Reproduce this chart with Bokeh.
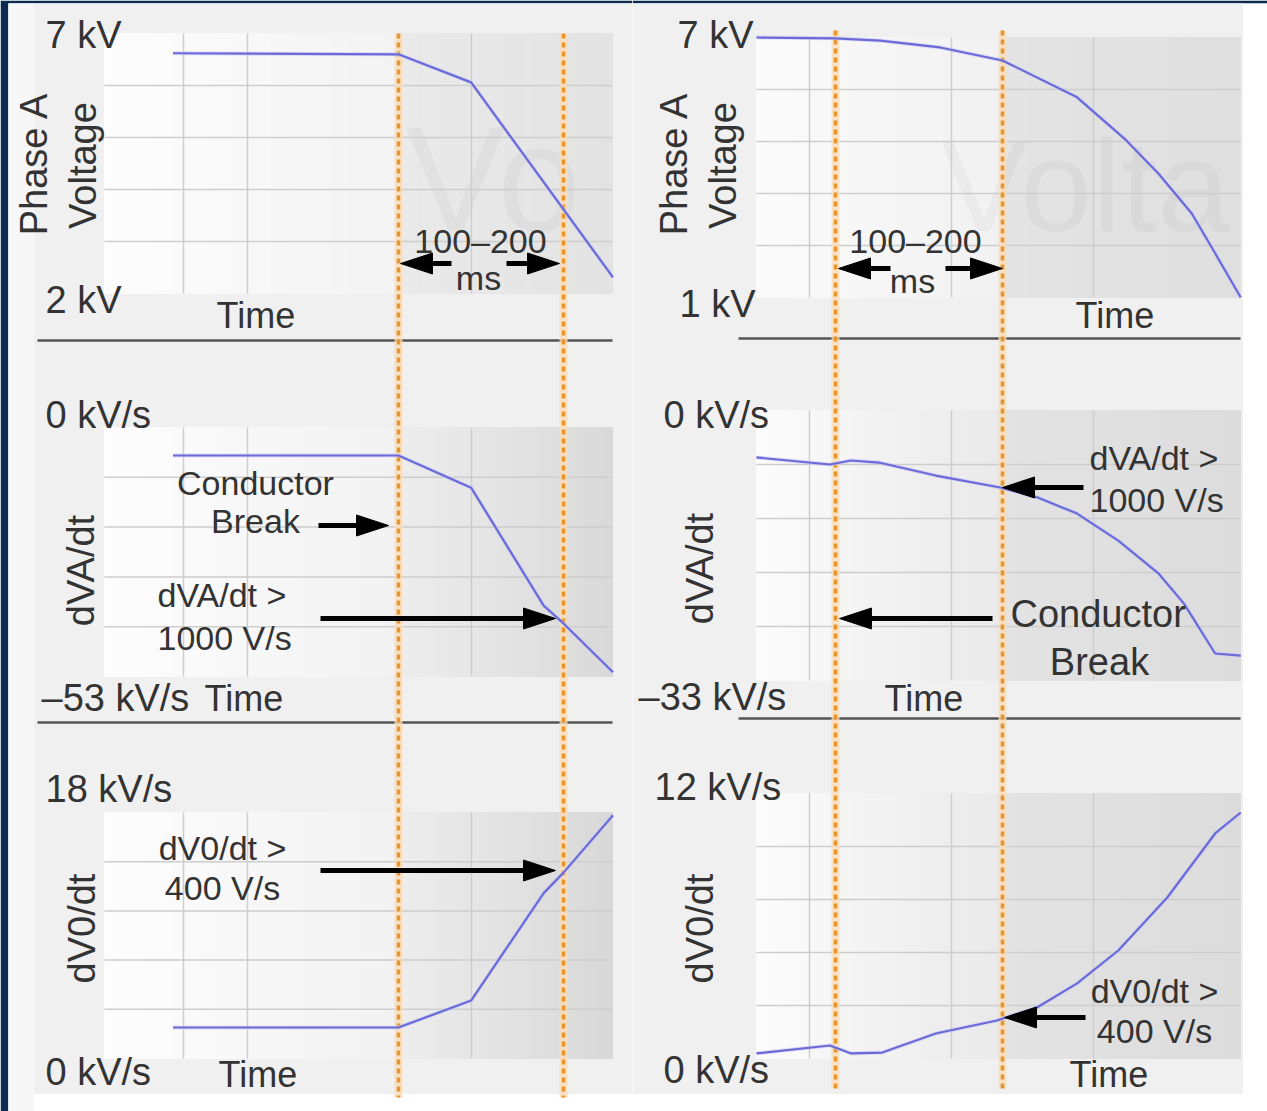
import numpy as np
from bokeh.plotting import figure
from bokeh.layouts import row
from bokeh.models import Range1d
from bokeh.core.properties import value
from bokeh.embed import file_html
from bokeh.resources import INLINE

# ---------------- data (time in ms, relative to the conductor break) ----------------
break_ms = 0        # first dashed line: conductor break
detect_ms = 150     # second dashed line: detection, 100-200 ms later

# Left column: idealised waveforms
left_t_volt = [-205, 0, 66, 195]
left_volt_kv = [6.62, 6.60, 6.06, 2.31]
left_t_rate = [-205, 0, 66, 132, 150, 195]
left_dva_kvs = [-5.96, -5.96, -12.8, -37.9, -41.7, -52.1]
left_dv0_kvs = [2.27, 2.27, 4.24, 12.1, 13.6, 17.8]

# Right column: recorded waveforms
right_t_volt = [-71, 0, 40, 94, 150, 217, 261, 290, 320, 341, 364]
right_volt_kv = [7.0, 6.98, 6.93, 6.77, 6.47, 5.62, 4.63, 3.86, 2.94, 2.02, 1.0]
right_t_dva = [-71, -5, 14, 39, 90, 148, 181, 217, 254, 290, 313, 341, 364]
right_dva_kvs = [-5.74, -6.6, -6.11, -6.36, -7.95, -9.41, -10.6, -12.6, -15.9, -19.9, -23.6, -29.7, -29.95]
right_t_dv0 = [-71, -5, 14, 42, 90, 145, 181, 217, 254, 298, 341, 364]
right_dv0_kvs = [0.23, 0.59, 0.23, 0.27, 1.13, 1.72, 2.31, 3.4, 4.89, 7.29, 10.19, 11.14]

# axis limits (bottom, top) and their labels
left_volt_lim, left_volt_labels = (2, 7), ("2 kV", "7 kV")
left_dva_lim, left_dva_labels = (-53, 0), ("\u201353 kV/s", "0 kV/s")
left_dv0_lim, left_dv0_labels = (0, 18), ("0 kV/s", "18 kV/s")
right_volt_lim, right_volt_labels = (1, 7), ("1 kV", "7 kV")
right_dva_lim, right_dva_labels = (-33, 0), ("\u201333 kV/s", "0 kV/s")
right_dv0_lim, right_dv0_labels = (0, 12), ("0 kV/s", "12 kV/s")

# ---------------- styling ----------------
FONT = value("Liberation Sans")
TXT = "#333333"
BLUE = "#6a6ad8"
ORANGE = "#e8942c"
HALO = "#fadcb6"
GRID = "#cdcdcd"
BASE = "#f0f0f0"
EDGE = "#f7f7f7"
NAVY = "#0b2a50"

# page geometry (pixels)
W_PAGE, H_PAGE = 1267, 1111
LX0, LX1, RX1 = 0, 632, 1267
NAVY_L, NAVY_T = 8, 3
L_BREAK, L_DET = 398, 563
R_BREAK, R_DET = 835, 1002
L_CH = (104, 612)
R_CH = (756, 1240)
L_VGRID = [183, 247, 471]
R_VGRID = [809, 951, 1093]
TICK, TIME, AXL, ANN = 38, 36, 38, 34
WM = 0.03


def mix(c0, c1, f):
    a = [int(c0[i:i + 2], 16) for i in (1, 3, 5)]
    b = [int(c1[i:i + 2], 16) for i in (1, 3, 5)]
    return "#%02x%02x%02x" % tuple(int(round(a[k] + (b[k] - a[k]) * f)) for k in range(3))


class Column:
    """One figure per column; each chart in it gets its own y range."""
    def __init__(self, fx0, fx1, ml, px_break, px_detect):
        self.fx0, self.fx1 = fx0 + ml, fx1
        self.fy0, self.fy1 = NAVY_T, H_PAGE
        self.px_break = px_break
        self.kx = (detect_ms - break_ms) / (px_detect - px_break)
        self.p = figure(width=fx1 - fx0, height=H_PAGE,
                        x_range=Range1d(self.X(fx0 + ml), self.X(fx1)),
                        y_range=Range1d(0, 1),
                        output_backend="svg", toolbar_location=None,
                        x_axis_location=None, y_axis_location=None,
                        min_border=0, min_border_left=ml, min_border_top=NAVY_T,
                        outline_line_color=None,
                        background_fill_color="white", border_fill_color=NAVY)
        self.p.xgrid.visible = False
        self.p.ygrid.visible = False

    def X(self, px):
        return break_ms + (px - self.px_break) * self.kx


class Panel:
    def __init__(self, col, name, lim, py_top, py_bot):
        self.c, self.p, self.name = col, col.p, name
        lo, hi = lim
        self.lim = lim
        self.hi, self.py_top = hi, py_top
        self.ky = (lo - hi) / (py_bot - py_top)
        rngs = dict(self.p.extra_y_ranges)
        rngs[name] = Range1d(self.Y(col.fy1), self.Y(col.fy0))
        self.p.extra_y_ranges = rngs

    def X(self, px):
        return self.c.X(px)

    def Y(self, py):
        return self.hi + (py - self.py_top) * self.ky

    def rect(self, x0, x1, y0, y1, color):
        c = self.c
        x0 = x0 - 3 if x0 <= c.fx0 else x0
        x1 = x1 + 3 if x1 >= c.fx1 else x1
        y0 = y0 - 3 if y0 <= c.fy0 else y0
        y1 = y1 + 3 if y1 >= c.fy1 else y1
        self.p.quad(left=[self.X(x0)], right=[self.X(x1)], top=[self.Y(y0)], bottom=[self.Y(y1)],
                    fill_color=color, line_color=color, line_width=1, y_range_name=self.name)

    def gradient(self, x0, x1, y0, y1, c0, c1, n=30):
        e = np.linspace(x0, x1, n + 1)
        cols = [mix(c0, c1, (i + 0.5) / n) for i in range(n)]
        self.p.quad(left=[self.X(v) for v in e[:-1]], right=[self.X(v) for v in e[1:]],
                    top=self.Y(y0), bottom=self.Y(y1), fill_color=cols, line_color=cols, line_width=1,
                    y_range_name=self.name)

    def text(self, px, py, s, size, align="left", baseline="alphabetic", angle=0.0, color=TXT, alpha=1.0):
        if baseline == "alphabetic":       # place by baseline, render centred on the cap height
            py = py - 0.36 * size
            baseline = "middle"
        self.p.text(x=[self.X(px)], y=[self.Y(py)], text=[s], text_font=FONT,
                    text_font_size=f"{size}px", text_color=color, text_alpha=alpha,
                    text_align=align, text_baseline=baseline, angle=angle, y_range_name=self.name)

    def arrow(self, x_tail, x_tip, y, L=32, W=21, lw=5):
        s = 1 if x_tip > x_tail else -1
        base = x_tip - s * L
        self.p.segment(x0=[self.X(x_tail)], y0=[self.Y(y)], x1=[self.X(base + s * 2)], y1=[self.Y(y)],
                       line_color="black", line_width=lw, y_range_name=self.name)
        self.p.patch(x=[self.X(x_tip), self.X(base), self.X(base)],
                     y=[self.Y(y), self.Y(y - W / 2), self.Y(y + W / 2)],
                     fill_color="black", line_color="black", line_width=1, y_range_name=self.name)

    def grid(self, x0, x1, py0, py1, vpx, n=5):
        ys = list(np.linspace(self.lim[0], self.lim[1], n + 1)[1:-1])
        self.p.segment(x0=[self.X(x0)] * len(ys), x1=[self.X(x1)] * len(ys), y0=ys, y1=ys,
                       line_color=GRID, line_width=1.5, y_range_name=self.name)
        xs = [self.X(v) for v in vpx]
        self.p.segment(x0=xs, x1=xs, y0=[self.Y(py0)] * len(xs), y1=[self.Y(py1)] * len(xs),
                       line_color=GRID, line_width=1.5, y_range_name=self.name)

    def separator(self, py, x0, x1):
        self.p.segment(x0=[self.X(x0)], x1=[self.X(x1)], y0=[self.Y(py)], y1=[self.Y(py)],
                       line_color="#555555", line_width=2.5, y_range_name=self.name)

    def dashed(self, py0, py1):
        xs = [break_ms, detect_ms]
        y0, y1 = self.Y(py0), self.Y(py1)
        self.p.segment(x0=xs, x1=xs, y0=[y0, y0], y1=[y1, y1], line_color=HALO, line_width=8,
                       line_alpha=0.8, y_range_name=self.name)
        self.p.segment(x0=xs, x1=xs, y0=[y0, y0], y1=[y1, y1], line_color=ORANGE, line_width=3.5,
                       line_dash="5 4", y_range_name=self.name)

    def curve(self, t, v):
        self.p.line(t, v, line_color="#c9c9f3", line_width=4, line_alpha=0.6, y_range_name=self.name)
        self.p.line(t, v, line_color=BLUE, line_width=2.2, y_range_name=self.name)


# =============================== left column ===============================
L = Column(LX0, LX1, NAVY_L, L_BREAK, L_DET)
lt = Panel(L, "l_volt", left_volt_lim, 33, 293)
lm = Panel(L, "l_dva", left_dva_lim, 427, 676)
lb = Panel(L, "l_dv0", left_dv0_lim, 812, 1058)

# page background
lt.rect(33, LX1, NAVY_T, 1093, BASE)
lt.rect(8, 33, NAVY_T, H_PAGE, EDGE)
# chart areas
lt.gradient(L_CH[0], L_BREAK, 33, 293, "#fdfdfd", "#f3f3f3")
lt.gradient(L_BREAK, L_CH[1], 33, 293, "#eaeaea", "#e3e3e3")
lm.gradient(L_CH[0], L_BREAK, 427, 676, "#fdfdfd", "#f2f2f2")
lm.gradient(L_BREAK, L_CH[1], 427, 676, "#ededed", "#d9d9d9")
lb.gradient(L_CH[0], L_BREAK, 812, 1058, "#fdfdfd", "#f2f2f2")
lb.gradient(L_BREAK, L_CH[1], 812, 1058, "#ededed", "#d8d8d8")
lt.text(405, 232, "Vo", 150, color="#000000", alpha=WM)
lt.grid(L_CH[0], L_CH[1], 33, 293, L_VGRID)
lm.grid(L_CH[0], L_CH[1], 427, 676, L_VGRID)
lb.grid(L_CH[0], L_CH[1], 812, 1058, L_VGRID)
lt.separator(340, 37, 612)
lm.separator(722, 37, 612)
lt.dashed(33, 1097)

# waveforms
lt.curve(left_t_volt, left_volt_kv)
lm.curve(left_t_rate, left_dva_kvs)
lb.curve(left_t_rate, left_dv0_kvs)

# annotations
lt.arrow(451, 400, 263)
lt.arrow(506, 559, 263)
lt.text(45, 48, left_volt_labels[1], TICK)
lt.text(45, 313, left_volt_labels[0], TICK)
lt.text(216, 328, "Time", TIME)
lt.text(33, 163, "Phase A", AXL, align="center", baseline="middle", angle=np.pi / 2)
lt.text(82, 165, "Voltage", AXL, align="center", baseline="middle", angle=np.pi / 2)
lt.text(480, 253, "100\u2013200", ANN, align="center")
lt.text(478, 290, "ms", ANN, align="center")

lm.arrow(318, 388, 525)
lm.arrow(320, 555, 618)
lm.text(45, 428, left_dva_labels[1], TICK)
lm.text(41, 711, left_dva_labels[0], TICK)
lm.text(204, 711, "Time", TIME)
lm.text(80, 570, "dVA/dt", AXL, align="center", baseline="middle", angle=np.pi / 2)
lm.text(255, 495, "Conductor", ANN, align="center")
lm.text(255, 533, "Break", ANN, align="center")
lm.text(157, 607, "dVA/dt >", ANN)
lm.text(157, 650, "1000 V/s", ANN)

lb.arrow(320, 555, 870)
lb.text(45, 802, left_dv0_labels[1], TICK)
lb.text(45, 1085, left_dv0_labels[0], TICK)
lb.text(218, 1087, "Time", TIME)
lb.text(81, 928, "dV0/dt", AXL, align="center", baseline="middle", angle=np.pi / 2)
lb.text(222, 860, "dV0/dt >", ANN, align="center")
lb.text(222, 900, "400 V/s", ANN, align="center")

# =============================== right column ===============================
R = Column(LX1, RX1, 0, R_BREAK, R_DET)
rt = Panel(R, "r_volt", right_volt_lim, 37, 297)
rm = Panel(R, "r_dva", right_dva_lim, 410, 680)
rb = Panel(R, "r_dv0", right_dv0_lim, 793, 1058)

rt.rect(LX1, 1242, NAVY_T, 1093, BASE)
rt.gradient(R_CH[0], R_DET, 37, 297, "#fbfbfb", "#f1f1f1")
rt.gradient(R_DET, R_CH[1], 37, 297, "#e4e4e4", "#dfdfdf")
rm.gradient(R_CH[0], R_DET, 410, 680, "#fcfcfc", "#e9e9e9")
rm.gradient(R_DET, R_CH[1], 410, 680, "#e3e3e3", "#dcdcdc")
rb.gradient(R_CH[0], R_DET, 793, 1058, "#fcfcfc", "#e9e9e9")
rb.gradient(R_DET, R_CH[1], 793, 1058, "#e3e3e3", "#dcdcdc")
rt.text(940, 232, "Volta", 130, color="#000000", alpha=WM)
rt.grid(R_CH[0], R_CH[1], 37, 297, R_VGRID)
rm.grid(R_CH[0], R_CH[1], 410, 680, R_VGRID)
rb.grid(R_CH[0], R_CH[1], 793, 1058, R_VGRID)
rt.separator(338, 738, 1240)
rm.separator(718, 738, 1240)
rt.dashed(30, 1088)

rt.curve(right_t_volt, right_volt_kv)
rm.curve(right_t_dva, right_dva_kvs)
rb.curve(right_t_dv0, right_dv0_kvs)

rt.arrow(890, 838, 268)
rt.arrow(945, 1002, 268)
rt.text(677, 48, right_volt_labels[1], TICK)
rt.text(679, 317, right_volt_labels[0], TICK)
rt.text(1075, 328, "Time", TIME)
rt.text(673, 163, "Phase A", AXL, align="center", baseline="middle", angle=np.pi / 2)
rt.text(722, 165, "Voltage", AXL, align="center", baseline="middle", angle=np.pi / 2)
rt.text(915, 253, "100\u2013200", ANN, align="center")
rt.text(912, 293, "ms", ANN, align="center")

rm.arrow(1083, 1002, 487)
rm.arrow(992, 839, 618)
rm.text(663, 428, right_dva_labels[1], TICK)
rm.text(638, 710, right_dva_labels[0], TICK)
rm.text(884, 711, "Time", TIME)
rm.text(699, 568, "dVA/dt", AXL, align="center", baseline="middle", angle=np.pi / 2)
rm.text(1089, 470, "dVA/dt >", ANN)
rm.text(1089, 512, "1000 V/s", ANN)
rm.text(1010, 627, "Conductor", 38)
rm.text(1099, 675, "Break", 38, align="center")

rb.arrow(1085, 1004, 1017)
rb.text(654, 800, right_dv0_labels[1], TICK)
rb.text(663, 1083, right_dv0_labels[0], TICK)
rb.text(1069, 1087, "Time", TIME)
rb.text(699, 928, "dV0/dt", AXL, align="center", baseline="middle", angle=np.pi / 2)
rb.text(1154, 1003, "dV0/dt >", ANN, align="center")
rb.text(1154, 1043, "400 V/s", ANN, align="center")

layout = row(L.p, R.p)
open("out.html", "w").write(file_html(layout, INLINE))
